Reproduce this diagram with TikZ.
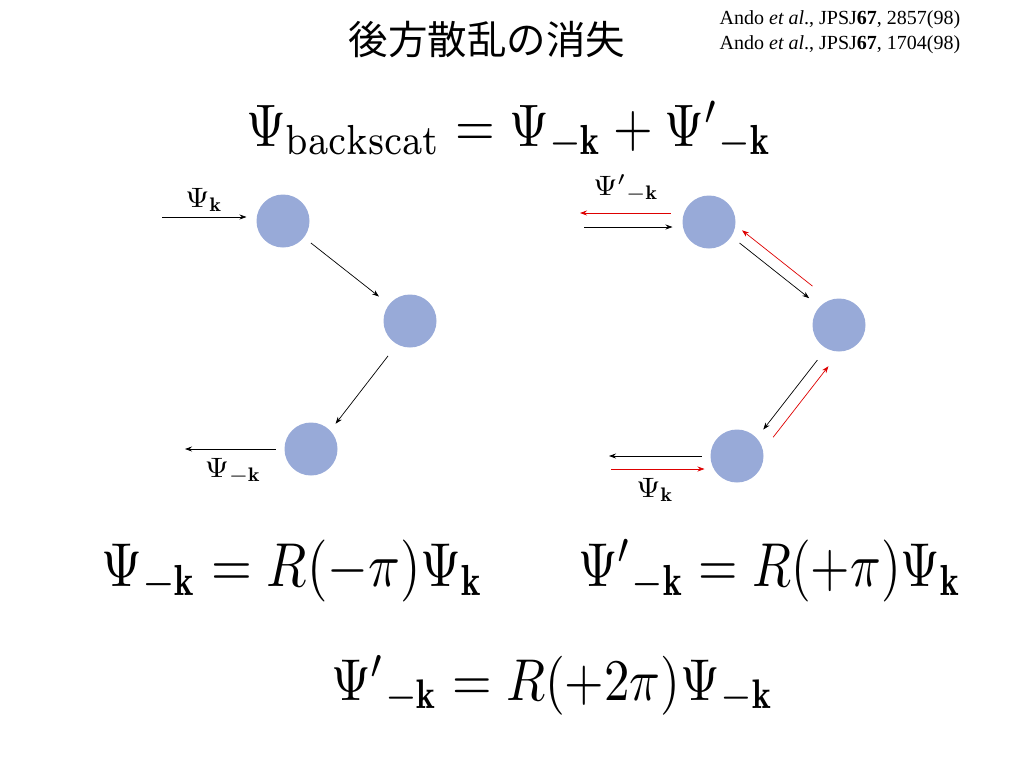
\documentclass[tikz,border=0pt]{standalone}
\usepackage{fontspec}
\newfontfamily\cjk{Noto Sans CJK JP}
\newfontfamily\reffont{Liberation Serif}
\usetikzlibrary{positioning,calc,arrows.meta}
\definecolor{dotblue}{RGB}{152,170,216}
\definecolor{backred}{RGB}{222,0,0}

\begin{document}
\begin{tikzpicture}[x=1pt,y=-1pt,
    dot/.style={circle,fill=dotblue,minimum size=53pt,inner sep=0pt,outer sep=0pt},
    arr/.style={-{Stealth[length=7pt,width=5pt]},line width=0.7pt},
    lbl/.style={inner sep=0pt},
    eq/.style={inner sep=0pt,anchor=base west}]
  \useasboundingbox (0,0) rectangle (1024,768);
  % title and references
  \node[inner sep=0pt,font=\cjk\fontsize{39.5}{42}\selectfont] (title) at (487,40) {後方散乱の消失};
  \node[inner sep=0pt,align=left,font=\reffont\fontsize{20}{25}\selectfont] (refs) at (840,32)
    {Ando \textit{et al}., JPSJ\textbf{67}, 2857(98)\\Ando \textit{et al}., JPSJ\textbf{67}, 1704(98)};
  % equations
  \node[eq] (eqa) at (246,146)
    {\scalebox{5.1}[6]{$\Psi_{\mathrm{backscat}}=\Psi_{-\mathbf{k}}+{\Psi'}_{-\mathbf{k}}$}};
  \node[eq] (eqb) at (101,586)
    {\scalebox{5.25}[6.2]{$\Psi_{-\mathbf{k}}=R(-\pi)\Psi_{\mathbf{k}}$}};
  \node[eq] (eqc) at (578,586)
    {\scalebox{5.07}[6.2]{${\Psi'}_{-\mathbf{k}}=R(+\pi)\Psi_{\mathbf{k}}$}};
  \node[eq] (eqd) at (331,700)
    {\scalebox{5.09}[5.9]{${\Psi'}_{-\mathbf{k}}=R(+2\pi)\Psi_{-\mathbf{k}}$}};

  % scatterers, single path
  \node[dot] (a1) at (283,221) {};
  \node[dot] (a2) at (410,321) {};
  \node[dot] (a3) at (311,449) {};
  \coordinate (ain) at (162,217);
  \coordinate (aout) at (185,449);
  \draw[arr,shorten >=10pt] (ain) -- (ain -| a1.west);
  \draw[arr,shorten <=9pt,shorten >=13pt] (a1) -- (a2);
  \draw[arr,shorten <=41pt,shorten >=35pt] ($(a2)!4pt!90:(a3)$) -- ($(a3)!4pt!-90:(a2)$);
  \draw[arr,shorten <=9pt] (aout -| a3.west) -- (aout);
  \node[lbl] (ka) at (204,200) {\scalebox{3.1}[2.8]{$\Psi_{\mathbf{k}}$}};
  \node[lbl] (kb) at (233,471) {\scalebox{3.1}[2.8]{$\Psi_{-\mathbf{k}}$}};

  % scatterers, time-reversed path
  \node[dot] (b1) at (709,222) {};
  \node[dot] (b2) at (839,325) {};
  \node[dot] (b3) at (737,456) {};
  \coordinate (bin) at (584,227);
  \coordinate (bout) at (580,213);
  \coordinate (cout) at (609,456);
  \coordinate (cin) at (611,469);
  \draw[arr,shorten >=10pt] (bin) -- (bin -| b1.west);
  \draw[arr,backred,shorten <=12pt] (bout -| b1.west) -- (bout);
  \draw[arr,shorten <=37pt,shorten >=40pt] ($(b1)!2.5pt!90:(b2)$) -- ($(b2)!2.5pt!-90:(b1)$);
  \draw[arr,backred,shorten <=45pt,shorten >=31pt] ($(b2)!14pt!-90:(b1)$) -- ($(b1)!14pt!90:(b2)$);
  \draw[arr,shorten <=41pt,shorten >=37pt] ($(b2)!4.5pt!90:(b3)$) -- ($(b3)!4.5pt!-90:(b2)$);
  \draw[arr,backred,shorten <=37pt,shorten >=39pt] ($(b3)!17pt!-90:(b2)$) -- ($(b2)!17pt!90:(b3)$);
  \draw[arr,shorten <=9pt] (cout -| b3.west) -- (cout);
  \draw[arr,backred,shorten >=6pt] (cin) -- (cin -| b3.west);
  \node[lbl] (kc) at (626,188) {\scalebox{3.1}[2.8]{${\Psi'}_{-\mathbf{k}}$}};
  \node[lbl] (kd) at (655,490) {\scalebox{3.1}[2.8]{$\Psi_{\mathbf{k}}$}};
\end{tikzpicture}
\end{document}
